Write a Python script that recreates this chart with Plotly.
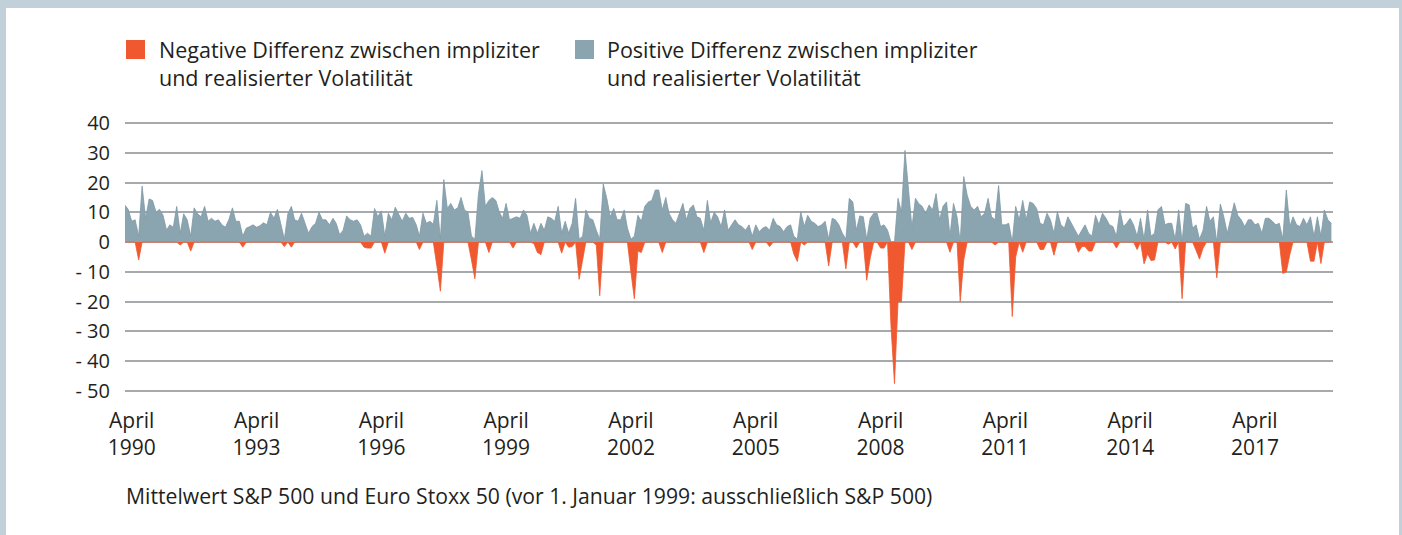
import pandas as pd
import plotly.graph_objects as go

# Monthly values (Feb 1990 - Feb 2019), in volatility points
pos = [12.4, 11, 7, 7.5, 2, 18.8, 8, 14.5, 14, 10, 11, 9, 4, 5.8, 5, 12, 3, 9.5, 7.5, 2,
       11.5, 9.5, 8.5, 12, 7, 8, 7, 7.5, 5.8, 5, 7.5, 11.5, 7, 7, 2, 4.7, 5.2, 5.8, 5, 5.5,
       6.5, 5.8, 10, 8, 11, 5.5, 1, 9.5, 12, 7.5, 7, 9.7, 6.3, 3, 5.2, 6.3, 10, 7.5, 7.5, 5.8,
       8, 6.3, 2.5, 4, 8.8, 7.5, 7, 7.5, 5.8, 2, 3, 2, 11.3, 8.5, 10.5, 2, 9.7, 7.5, 11.7, 9,
       7, 9.7, 8, 8.3, 5.8, 2, 9.7, 6.3, 7, 6, 14, 1, 21, 11.3, 13, 10.8, 11.5, 15, 10.8, 10,
       2, 1, 16, 24, 12, 14, 15, 14, 10, 8, 13, 7.5, 8, 8.5, 8, 10.8, 9, 3, 6.3, 3,
       6.3, 4, 8.5, 8, 7, 12, 3, 7, 3, 6.3, 14.7, 1, 2, 10.8, 8, 7.5, 4, 1, 19.5, 14.7,
       8.5, 11.3, 7.5, 7.5, 10.8, 4.7, 1, 2, 9, 7, 12, 13.5, 14, 17.5, 17.5, 10.8, 15, 9.7, 7.5, 6.3,
       9.7, 13, 7.5, 11.3, 12.5, 8.5, 8, 4, 14, 6.5, 10, 8.5, 5.2, 10.8, 4, 5.8, 7.5, 5.8, 5.2, 4,
       5.8, 2, 5.8, 3.5, 4.7, 5.2, 4, 8, 5.8, 5.2, 3.5, 5.2, 5.8, 2, 1, 10.2, 5.2, 9, 7, 6.3,
       5.2, 5.8, 7, 1, 8, 7.5, 5.8, 3, 1, 14.7, 13.5, 4, 8.8, 8.5, 1, 8, 9.7, 9.7, 5.2, 5.8,
       4, 0, 0, 14.7, 10, 30.8, 19, 5, 14.7, 13, 12, 9.7, 12.5, 10.8, 16.3, 7.5, 12, 13.5, 2, 13,
       8.5, 0, 22, 15.8, 12, 10.8, 12, 8.5, 9.7, 14.7, 8.5, 7.5, 19, 5.8, 5.8, 6.3, 0, 12, 7.5, 14,
       7.5, 13.5, 13, 11.3, 6.3, 5.8, 9.7, 7.5, 3, 10.2, 5.8, 4.7, 8.5, 6.3, 4, 2, 4, 5.8, 3, 2,
       9, 5.8, 9.7, 8, 5.8, 5.2, 2, 10.8, 5.2, 6.3, 8, 5.8, 2, 8, 1, 10.8, 2, 3, 10.8, 12,
       5.8, 6.3, 6.3, 1, 10.8, 0, 13, 12.5, 4.7, 5.8, 1, 4, 12, 7, 8.5, 0, 12.8, 8.5, 3, 8,
       13.2, 9, 7.5, 5.2, 7.5, 7.5, 5.8, 6.3, 3, 8, 8, 7, 5.8, 6.3, 1, 17.5, 5.2, 8.5, 5.8, 5.2,
       8, 5.8, 8.5, 2, 8.5, 2, 10.8, 7.5, 6.3]

neg = [0, 0, 0, 0, -6, 0, 0, 0, 0, 0, 0, 0, 0, 0, 0, 0, -1, 0, 0, -3,
       0, 0, 0, 0, 0, 0, 0, 0, 0, 0, 0, 0, 0, 0, -1.7, 0, 0, 0, 0, 0,
       0, 0, 0, 0, 0, 0, -1.5, 0, -1.7, 0, 0, 0, 0, 0, 0, 0, 0, 0, 0, 0,
       0, 0, 0, 0, 0, 0, 0, 0, 0, -1.7, -2, -2, 0, 0, 0, -3.7, 0, 0, 0, 0,
       0, 0, 0, 0, 0, -2.5, 0, 0, 0, 0, -8, -16.5, 0, 0, 0, 0, 0, 0, 0, 0,
       -6, -12.3, 0, 0, 0, -3.5, 0, 0, 0, 0, 0, 0, -2, 0, 0, 0, 0, 0, -0.5, -3.5,
       -4.2, 0, 0, 0, 0, 0, -3.7, 0, -1.7, -1.5, 0, -12.5, -6, 0, 0, 0, -1, -18, 0, 0,
       0, 0, 0, 0, 0, 0, -10, -19, -3, -3.5, 0, 0, 0, 0, 0, -3.5, 0, 0, 0, 0,
       0, 0, 0, 0, 0, 0, 0, -3.5, 0, 0, 0, 0, 0, 0, 0, 0, 0, 0, 0, 0,
       0, -2.5, 0, 0, 0, 0, -1.5, 0, 0, 0, 0, 0, 0, -4, -6.5, 0, -1, 0, 0, 0,
       0, 0, 0, -8, 0, 0, 0, 0, -9, 0, 0, -2, 0, 0, -12.8, -5.3, 0, 0, -2, -2,
       0, -28, -47.5, -20, -20, 0, 0, -2.5, 0, 0, 0, 0, 0, 0, 0, 0, 0, 0, -3.4, 0,
       0, -20, -6, 0, 0, 0, 0, 0, 0, 0, 0, -1, 0, 0, 0, 0, -25, -5, 0, -3.4,
       0, 0, 0, 0, -2.5, -2.5, 0, 0, -4.4, 0, 0, 0, 0, 0, 0, -3.4, -1.5, -1.5, -3, -3,
       0, 0, 0, 0, 0, 0, -2, 0, 0, 0, 0, 0, -2.5, 0, -7.3, -4, -6.2, -6, 0, 0,
       0, -0.7, 0, -2.3, 0, -19, 0, 0, 0, -2.8, -5.7, -2, 0, 0, 0, -12, 0, 0, 0, 0,
       0, 0, 0, 0, 0, 0, 0, 0, 0, 0, 0, 0, 0, 0, -10.5, -10, -4.2, 0, 0, 0,
       0, 0, -6.4, -6.4, 0, -7.2, 0, 0, 0]

y_ticks = [-50, -40, -30, -20, -10, 0, 10, 20, 30, 40]
y_labels = ["- 50", "- 40", "- 30", "- 20", "- 10", "0", "10", "20", "30", "40"]
x_tick_years = [1990, 1993, 1996, 1999, 2002, 2005, 2008, 2011, 2014, 2017]

legend_neg = "Negative Differenz zwischen impliziter<br>und realisierter Volatilität"
legend_pos = "Positive Differenz zwischen impliziter<br>und realisierter Volatilität"
note = "Mittelwert S&P 500 und Euro Stoxx 50 (vor 1. Januar 1999: ausschließlich S&P 500)"

dates = pd.date_range("1990-02-01", periods=len(pos), freq="MS")

ORANGE = "#f0582f"
GREY = "#8aa4b0"
FRAME = "#c2d0d9"
TEXT = "#231f20"
FONT = "Open Sans"

W, H = 1402, 535
L, R, T, B = 125, 69, 120, 141
PW, PH = W - L - R, H - T - B


def fx(px):
    return (px - L) / PW


def fy(py):
    return (H - B - py) / PH


fig = go.Figure()
fig.add_trace(go.Scatter(x=dates, y=pos, mode="lines", fill="tozeroy",
                         line=dict(color="#7f99a6", width=0.8), fillcolor=GREY,
                         name="Positive Differenz", showlegend=False, hoverinfo="skip"))
fig.add_trace(go.Scatter(x=dates, y=neg, mode="lines", fill="tozeroy",
                         line=dict(color=ORANGE, width=0.8), fillcolor=ORANGE,
                         name="Negative Differenz", showlegend=False, hoverinfo="skip"))

shapes = [
    dict(type="rect", xref="paper", yref="paper", x0=fx(6), x1=fx(1399), y0=fy(8), y1=fy(H + 5),
         fillcolor="white", line=dict(width=0), layer="below"),
    dict(type="rect", xref="paper", yref="paper", x0=fx(126), x1=fx(145), y0=fy(40), y1=fy(59),
         fillcolor=ORANGE, line=dict(width=0)),
    dict(type="rect", xref="paper", yref="paper", x0=fx(575), x1=fx(594), y0=fy(40), y1=fy(59),
         fillcolor=GREY, line=dict(width=0)),
]

LEG_FONT = dict(size=21.5, color=TEXT, family=FONT)
annotations = [
    dict(xref="paper", yref="paper", x=fx(157), y=fy(63.5), xanchor="left", yanchor="middle",
         text=legend_neg, showarrow=False, align="left", font=LEG_FONT),
    dict(xref="paper", yref="paper", x=fx(605), y=fy(63.5), xanchor="left", yanchor="middle",
         text=legend_pos, showarrow=False, align="left", font=LEG_FONT),
    dict(xref="paper", yref="paper", x=fx(124), y=fy(495), xanchor="left", yanchor="middle",
         text=note, showarrow=False, align="left", font=dict(size=21.2, color=TEXT, family=FONT)),
]

fig.update_layout(
    width=W, height=H,
    margin=dict(l=L, r=R, t=T, b=B, pad=0),
    paper_bgcolor=FRAME, plot_bgcolor="white",
    font=dict(family=FONT, size=20, color=TEXT),
    shapes=shapes, annotations=annotations, showlegend=False,
    xaxis=dict(
        type="date", range=["1990-02-01", "2019-02-15"],
        tickvals=[f"{y}-04-01" for y in x_tick_years],
        ticktext=[f"April<br>{y}" for y in x_tick_years],
        showgrid=False, zeroline=False, showline=False, ticks="",
        ticklabelstandoff=12, tickfont=dict(size=21, color=TEXT, family=FONT),
    ),
    yaxis=dict(
        range=[-51, 41], tickvals=y_ticks, ticktext=y_labels,
        showgrid=True, gridcolor="#a6aaad", gridwidth=1.6,
        zeroline=False, showline=False, ticks="",
        ticklabelstandoff=14, tickfont=dict(size=20, color=TEXT, family=FONT),
    ),
)

fig.write_html("out.html", config={"displayModeBar": False},
               post_script="document.body.style.margin='0px';document.body.style.overflow='hidden';")
